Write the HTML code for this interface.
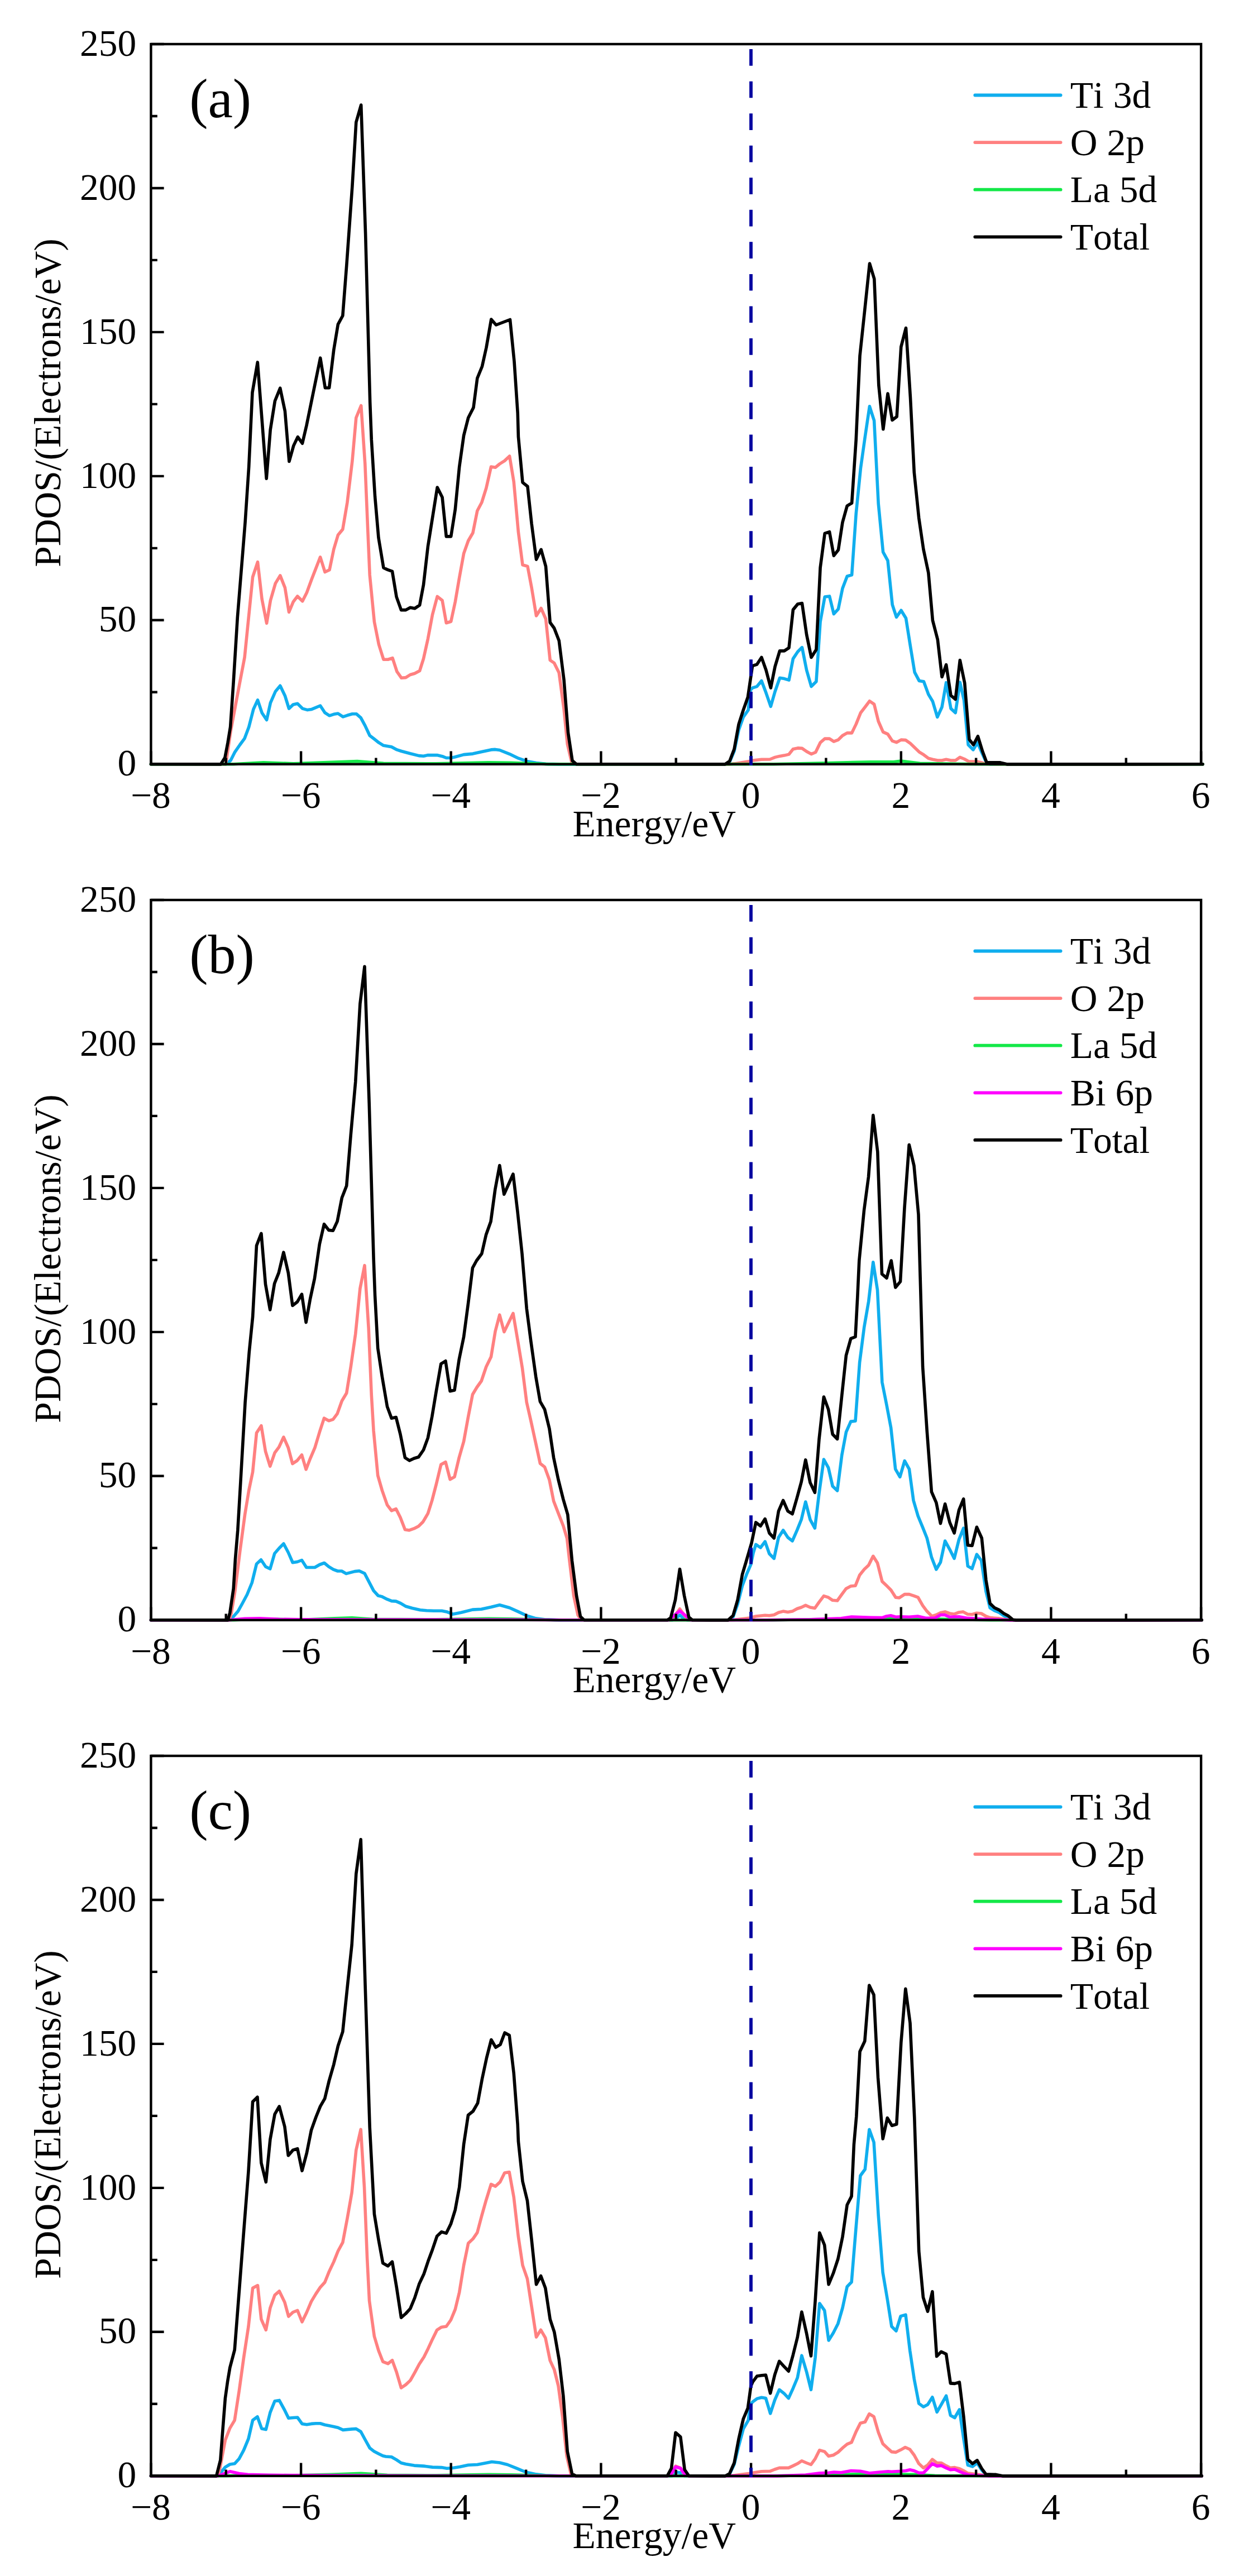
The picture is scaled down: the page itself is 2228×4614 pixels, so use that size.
<!DOCTYPE html>
<html><head><meta charset="utf-8"><title>PDOS</title>
<style>
html,body{margin:0;padding:0;background:#fff;}
svg{display:block;}
text{font-family:"Liberation Serif","Times New Roman",serif;font-size:67.5px;fill:#000;font-kerning:none;font-variant-ligatures:none;}
</style></head><body>
<svg width="2228" height="4614" viewBox="0 0 2228 4614">
<rect width="2228" height="4614" fill="#fff"/>
<g>
<text x="244.3" y="1389.4" text-anchor="end">0</text>
<text x="244.3" y="1131.4" text-anchor="end">50</text>
<text x="244.3" y="873.5" text-anchor="end">100</text>
<text x="244.3" y="615.5" text-anchor="end">150</text>
<text x="244.3" y="357.6" text-anchor="end">200</text>
<text x="244.3" y="99.6" text-anchor="end">250</text>
<text x="269.9" y="1447.1" text-anchor="middle">−8</text>
<text x="538.6" y="1447.1" text-anchor="middle">−6</text>
<text x="807.2" y="1447.1" text-anchor="middle">−4</text>
<text x="1075.9" y="1447.1" text-anchor="middle">−2</text>
<text x="1344.6" y="1447.1" text-anchor="middle">0</text>
<text x="1613.3" y="1447.1" text-anchor="middle">2</text>
<text x="1881.9" y="1447.1" text-anchor="middle">4</text>
<text x="2150.6" y="1447.1" text-anchor="middle">6</text>
<text x="1025.6" y="1497.6">Energy/eV</text>
<text transform="translate(108.3 721.5) rotate(-90)" text-anchor="middle">PDOS/(Electrons/eV)</text>
<path d="M270.4 1368.8L404.2 1368.9L406.7 1367.1L413.1 1362.0L420.8 1346.8L429.7 1334.0L438.1 1322.6L445.7 1302.2L453.9 1270.4L461.5 1253.8L469.1 1276.7L477.6 1289.5L484.4 1258.9L493.3 1238.5L501.8 1228.3L510.4 1246.2L517.5 1269.1L525.2 1261.9L532.8 1260.2L541.7 1269.1L550.7 1271.6L558.3 1270.4L573.6 1264.0L582.0 1276.7L590.1 1281.8L597.8 1279.3L605.4 1278.0L614.3 1283.9L622.0 1281.3L630.9 1278.8L638.5 1278.8L646.2 1285.6L653.8 1299.6L662.2 1317.5L670.4 1323.8L678.5 1330.2L686.9 1335.3L701.2 1337.8L710.9 1342.9L719.0 1345.5L734.8 1349.8L750.3 1353.6L758.5 1354.2L766.4 1352.6L782.7 1352.6L792.1 1354.7L799.3 1357.5L807.7 1357.5L815.3 1355.7L830.6 1351.6L846.9 1350.1L862.9 1346.5L879.5 1342.9L887.1 1342.4L894.8 1343.5L912.6 1350.6L928.4 1358.2L944.9 1363.8L960.5 1366.6L977.5 1368.4L1002.0 1368.9L1300.2 1368.9L1306.8 1364.6L1315.0 1345.5L1323.1 1307.3L1331.3 1284.4L1340.2 1271.6L1344.0 1236.0L1347.6 1232.1L1355.7 1229.6L1363.9 1219.4L1372.0 1241.1L1380.4 1265.3L1388.1 1238.5L1396.5 1214.3L1404.6 1215.6L1413.0 1218.1L1420.4 1179.9L1428.8 1167.2L1436.5 1159.6L1444.6 1200.3L1453.0 1229.6L1461.9 1220.7L1469.1 1113.7L1477.2 1069.1L1485.6 1067.9L1493.3 1099.7L1501.4 1090.8L1509.0 1053.8L1517.2 1032.2L1525.6 1029.7L1533.2 920.1L1541.4 838.6L1549.3 782.6L1557.4 727.8L1565.6 753.3L1573.2 902.3L1581.6 988.9L1590.0 1004.2L1598.2 1083.1L1605.5 1105.3L1613.9 1093.3L1622.5 1107.3L1630.4 1157.0L1638.1 1204.1L1646.2 1219.4L1654.4 1220.7L1662.8 1243.6L1670.4 1256.3L1678.8 1284.4L1687.0 1266.5L1694.6 1222.7L1703.0 1269.1L1711.2 1276.7L1719.3 1222.0L1726.5 1253.8L1734.1 1334.0L1743.0 1342.9L1750.7 1330.2L1759.6 1350.6L1767.2 1367.1L1773.6 1368.9L2154.0 1368.8" fill="none" stroke="#10AEEE" stroke-width="5.6" stroke-linejoin="round" stroke-linecap="round"/>
<path d="M270.4 1368.8L404.2 1368.9L405.5 1360.8L413.1 1309.8L427.4 1233.4L438.1 1177.4L452.6 1033.5L461.5 1006.7L469.1 1073.0L477.6 1116.3L484.4 1075.5L493.3 1044.9L501.8 1030.9L510.4 1052.6L517.5 1096.4L525.2 1078.0L532.8 1067.9L541.7 1076.8L549.4 1061.5L558.3 1037.3L573.6 997.8L582.0 1024.6L590.1 1020.7L597.8 983.8L605.4 958.3L613.8 948.1L622.0 899.7L630.9 825.9L637.8 748.2L646.7 726.5L653.8 831.0L658.9 953.2L662.2 1029.7L670.4 1113.7L678.5 1154.5L686.9 1181.2L694.8 1181.2L703.0 1178.7L710.9 1202.9L719.0 1214.3L726.7 1213.6L734.8 1208.5L742.7 1206.2L751.6 1201.6L758.5 1179.9L766.4 1144.3L774.5 1101.0L783.2 1068.4L792.1 1075.5L799.3 1115.7L807.7 1113.2L815.3 1078.0L822.7 1034.7L830.6 991.4L838.7 968.5L846.9 954.5L854.8 915.0L862.9 899.7L870.8 874.3L879.5 836.1L887.1 837.3L894.8 831.0L903.7 825.4L912.6 817.0L920.2 862.8L928.4 953.2L936.0 1011.8L944.9 1014.4L952.1 1052.6L960.5 1103.0L969.1 1089.5L977.5 1108.6L985.2 1182.5L992.5 1187.5L1001.2 1205.0L1010.0 1270.0L1016.2 1332.5L1023.8 1365.0L1032.5 1368.8L1305.3 1368.9L1315.5 1367.9L1340.9 1363.8L1348.6 1362.0L1363.9 1360.3L1379.1 1360.0L1388.1 1356.4L1396.5 1354.4L1404.6 1353.1L1413.0 1351.1L1420.4 1341.7L1428.8 1339.9L1436.5 1340.4L1444.6 1346.0L1453.0 1350.6L1460.7 1347.5L1469.1 1330.2L1477.2 1323.1L1485.6 1323.1L1493.3 1328.2L1501.4 1325.1L1509.0 1317.5L1517.2 1312.9L1525.6 1312.9L1533.2 1297.1L1541.4 1276.7L1549.3 1266.5L1557.4 1255.8L1565.6 1261.4L1573.2 1292.0L1581.6 1311.1L1590.0 1314.9L1598.2 1327.2L1605.5 1329.7L1613.9 1325.1L1622.0 1325.6L1630.4 1331.5L1638.1 1339.1L1646.2 1346.8L1654.4 1351.9L1662.8 1358.2L1670.4 1360.3L1679.3 1362.0L1687.0 1362.0L1694.6 1360.3L1703.0 1362.0L1711.2 1362.0L1719.3 1356.4L1727.2 1359.5L1735.4 1364.1L1750.7 1364.1L1767.2 1368.4L1783.8 1368.9L2154.0 1368.8" fill="none" stroke="#FF8080" stroke-width="5.6" stroke-linejoin="round" stroke-linecap="round"/>
<path d="M270.4 1368.8L418.2 1368.8L471.9 1365.7L525.6 1367.8L592.8 1365.2L639.8 1363.6L686.8 1367.3L780.9 1367.8L874.9 1365.7L915.2 1366.2L982.4 1368.8L1385.4 1368.8L1479.4 1366.7L1560.0 1364.7L1600.3 1364.7L1613.8 1363.1L1627.2 1364.7L1647.4 1367.3L1694.4 1368.0L1748.1 1368.8L2154.0 1368.8" fill="none" stroke="#14E848" stroke-width="5.6" stroke-linejoin="round" stroke-linecap="round"/>
<path d="M270.4 1368.8L395.3 1368.9L402.9 1357.0L408.0 1330.2L412.6 1302.2L418.2 1220.7L425.3 1106.1L434.8 988.9L439.1 935.4L445.7 836.1L452.0 702.9L461.3 648.9L477.2 857.2L484.2 769.8L492.4 718.3L501.7 695.2L510.4 736.3L517.9 826.4L525.9 798.1L533.3 782.6L541.5 794.2L549.0 762.1L573.7 641.2L582.4 694.7L589.6 694.7L597.8 626.6L605.4 580.8L613.8 565.5L620.7 476.3L630.9 333.7L637.8 219.1L646.7 188.0L654.6 417.8L662.7 720.9L665.3 787.7L671.6 889.6L678.0 963.4L686.9 1016.9L694.8 1020.7L702.5 1023.3L710.1 1069.1L718.5 1092.6L726.7 1092.6L734.8 1088.2L742.7 1089.8L751.6 1083.9L758.5 1047.5L766.4 978.7L774.5 927.8L783.2 873.0L792.1 890.8L799.3 960.9L807.7 960.9L815.3 912.5L822.7 836.1L830.6 780.0L838.7 748.2L848.0 730.0L854.8 677.5L863.5 656.2L871.0 622.5L879.8 572.0L888.5 582.0L913.5 572.5L921.0 647.5L927.2 740.0L928.4 782.6L936.0 864.1L944.9 871.2L952.1 938.0L960.5 1002.1L969.1 984.3L977.5 1014.4L985.2 1115.0L992.5 1125.0L1001.2 1147.5L1010.0 1217.5L1017.5 1312.5L1025.0 1362.5L1032.5 1368.8L1298.7 1368.9L1306.8 1363.3L1315.0 1341.7L1323.1 1297.1L1331.3 1271.6L1339.4 1248.7L1347.6 1192.7L1355.7 1190.1L1363.9 1177.4L1372.0 1200.3L1380.4 1232.1L1388.1 1193.9L1396.5 1165.9L1404.6 1165.9L1413.0 1160.3L1420.4 1092.1L1428.8 1081.9L1436.5 1080.6L1444.6 1136.6L1453.0 1177.4L1461.9 1163.4L1469.1 1016.9L1477.2 955.3L1485.6 952.7L1493.3 995.3L1501.4 985.1L1509.0 935.4L1517.2 906.1L1525.6 901.0L1533.2 787.7L1540.0 637.5L1548.8 555.0L1557.5 472.0L1565.8 499.5L1573.8 690.0L1581.8 768.8L1590.0 705.0L1598.0 752.5L1606.2 746.2L1613.8 621.2L1622.5 587.5L1630.5 712.5L1637.3 846.3L1645.7 927.8L1653.9 983.8L1662.8 1025.8L1670.4 1111.2L1679.3 1145.5L1687.0 1212.5L1694.6 1190.6L1703.0 1245.6L1711.2 1252.5L1719.3 1182.5L1727.7 1223.2L1735.9 1324.6L1743.5 1334.0L1751.4 1318.7L1759.6 1345.5L1767.2 1365.9L1791.4 1365.9L1804.1 1368.9L2154.0 1368.8" fill="none" stroke="#000" stroke-width="5.6" stroke-linejoin="round" stroke-linecap="round"/>
<path d="M270.4 1368.8h23.2M270.4 1239.8h11.4M270.4 1110.8h23.2M270.4 981.9h11.4M270.4 852.9h23.2M270.4 723.9h11.4M270.4 594.9h23.2M270.4 465.9h11.4M270.4 337.0h23.2M270.4 208.0h11.4M270.4 79.0h23.2M270.4 1368.8v-23.2M404.7 1368.8v-11.4M539.1 1368.8v-23.2M673.4 1368.8v-11.4M807.7 1368.8v-23.2M942.1 1368.8v-11.4M1076.4 1368.8v-23.2M1210.7 1368.8v-11.4M1345.1 1368.8v-23.2M1479.4 1368.8v-11.4M1613.8 1368.8v-23.2M1748.1 1368.8v-11.4M1882.4 1368.8v-23.2M2016.8 1368.8v-11.4M2151.1 1368.8v-23.2" stroke="#000" stroke-width="4.4" fill="none"/>
<rect x="270.4" y="79.0" width="1880.7" height="1289.8" fill="none" stroke="#000" stroke-width="4.4"/>
<path d="M1345.0 88.1V1371.0" stroke="#0000A0" stroke-width="5.8" stroke-dasharray="29.7 27.84" fill="none"/>
<path d="M1746.3 170.5H1899.6" stroke="#10AEEE" stroke-width="5.8" stroke-linecap="round"/>
<text x="1916.8" y="193.1">Ti 3d</text>
<path d="M1746.3 255.1H1899.6" stroke="#FF8080" stroke-width="5.8" stroke-linecap="round"/>
<text x="1916.8" y="277.7">O 2p</text>
<path d="M1746.3 339.7H1899.6" stroke="#14E848" stroke-width="5.8" stroke-linecap="round"/>
<text x="1916.8" y="362.3">La 5d</text>
<path d="M1746.3 424.3H1899.6" stroke="#000" stroke-width="5.8" stroke-linecap="round"/>
<text x="1916.8" y="446.9">Total</text>
<text x="339.2" y="210.0" style="font-size:100px">(a)</text>
</g>
<g>
<text x="244.3" y="2922.4" text-anchor="end">0</text>
<text x="244.3" y="2664.4" text-anchor="end">50</text>
<text x="244.3" y="2406.5" text-anchor="end">100</text>
<text x="244.3" y="2148.5" text-anchor="end">150</text>
<text x="244.3" y="1890.6" text-anchor="end">200</text>
<text x="244.3" y="1632.6" text-anchor="end">250</text>
<text x="269.9" y="2980.1" text-anchor="middle">−8</text>
<text x="538.6" y="2980.1" text-anchor="middle">−6</text>
<text x="807.2" y="2980.1" text-anchor="middle">−4</text>
<text x="1075.9" y="2980.1" text-anchor="middle">−2</text>
<text x="1344.6" y="2980.1" text-anchor="middle">0</text>
<text x="1613.3" y="2980.1" text-anchor="middle">2</text>
<text x="1881.9" y="2980.1" text-anchor="middle">4</text>
<text x="2150.6" y="2980.1" text-anchor="middle">6</text>
<text x="1025.6" y="3030.6">Energy/eV</text>
<text transform="translate(108.3 2254.5) rotate(-90)" text-anchor="middle">PDOS/(Electrons/eV)</text>
<path d="M270.4 2901.8L409.5 2901.8L412.5 2900.0L417.5 2896.2L426.2 2886.2L433.8 2872.5L442.5 2856.2L451.2 2835.0L459.5 2801.2L467.5 2793.8L475.8 2806.2L483.8 2810.0L491.8 2782.5L500.0 2773.0L508.0 2765.0L516.2 2780.5L524.2 2798.8L532.5 2797.5L540.5 2794.5L548.8 2807.5L563.8 2807.5L572.5 2802.5L580.8 2799.5L588.8 2806.2L597.0 2811.2L604.8 2814.0L612.0 2814.0L620.0 2818.6L635.4 2814.6L643.4 2813.8L653.0 2818.3L669.1 2849.1L677.2 2858.0L683.6 2859.6L693.2 2864.4L701.3 2867.6L709.3 2868.1L717.4 2871.6L727.0 2877.3L738.3 2880.5L752.7 2883.7L764.0 2884.8L776.8 2885.3L791.3 2885.3L800.0 2886.9L810.7 2891.2L826.0 2888.2L846.4 2883.1L862.2 2882.3L879.5 2878.5L894.8 2874.7L912.6 2879.8L927.9 2886.6L943.2 2893.8L959.7 2898.9L975.5 2900.7L1002.0 2901.9L1203.8 2901.8L1209.5 2899.5L1217.5 2893.0L1225.5 2899.5L1231.2 2901.8L1305.3 2901.9L1312.9 2896.3L1321.1 2873.4L1329.5 2840.3L1337.1 2819.9L1344.8 2802.1L1349.1 2781.7L1353.7 2766.4L1362.1 2772.0L1370.2 2761.3L1377.9 2783.0L1386.3 2791.4L1394.4 2753.7L1402.6 2740.9L1411.0 2753.7L1419.1 2760.1L1427.5 2740.9L1435.2 2721.8L1442.8 2690.0L1451.0 2721.8L1459.4 2737.1L1467.0 2674.7L1475.4 2614.1L1483.6 2628.9L1491.2 2662.0L1499.6 2670.1L1507.8 2606.0L1515.4 2565.2L1523.8 2546.1L1532.0 2545.3L1539.6 2440.4L1547.8 2376.7L1555.7 2330.9L1563.8 2260.8L1571.5 2310.5L1579.9 2476.0L1588.0 2516.8L1595.7 2557.6L1603.7 2631.4L1611.8 2645.4L1620.2 2616.6L1628.4 2631.4L1636.0 2687.5L1644.2 2715.5L1652.6 2735.9L1660.2 2755.0L1668.4 2789.3L1676.8 2811.0L1684.4 2798.3L1692.6 2760.1L1701.0 2775.3L1709.1 2791.4L1717.5 2757.5L1725.7 2737.1L1733.3 2805.1L1741.0 2809.7L1749.4 2784.2L1757.5 2794.9L1765.9 2850.5L1773.1 2879.8L1781.2 2884.9L1789.4 2888.2L1797.8 2893.8L1805.9 2898.9L1811.8 2901.9L2152.3 2901.8" fill="none" stroke="#10AEEE" stroke-width="5.6" stroke-linejoin="round" stroke-linecap="round"/>
<path d="M270.4 2901.8L410.6 2901.9L414.4 2888.7L420.8 2850.5L429.7 2779.2L438.6 2712.9L445.7 2669.6L452.6 2636.5L459.5 2566.5L467.9 2553.7L475.5 2599.6L483.7 2626.3L492.1 2602.1L499.7 2591.9L507.9 2574.1L516.3 2593.2L523.9 2621.7L532.3 2616.1L540.5 2606.0L548.1 2631.9L555.7 2612.3L563.9 2593.2L572.3 2565.2L580.5 2540.2L588.9 2544.8L596.5 2542.3L604.1 2532.1L612.3 2509.2L620.7 2495.2L628.3 2448.0L636.7 2389.4L644.9 2307.9L653.0 2266.7L660.2 2379.3L665.3 2499.0L669.1 2562.7L676.7 2642.9L684.4 2669.6L693.5 2695.6L701.2 2705.8L709.3 2702.7L717.0 2718.0L725.4 2739.7L733.0 2740.9L741.4 2737.9L749.6 2733.8L757.7 2725.7L766.4 2710.9L773.8 2687.5L781.4 2658.2L789.8 2623.3L798.0 2618.7L806.1 2649.8L814.0 2645.4L822.2 2611.0L830.6 2581.8L838.7 2537.2L846.4 2497.7L854.0 2485.0L862.2 2473.5L870.8 2448.0L879.5 2430.2L887.1 2384.4L894.8 2355.1L902.9 2385.6L919.0 2352.5L927.9 2404.7L935.5 2450.6L943.2 2511.7L950.8 2544.8L959.7 2585.6L967.4 2621.2L975.5 2627.6L983.9 2650.5L991.6 2688.7L1000.0 2710.5L1008.8 2733.0L1015.5 2755.5L1020.0 2795.5L1027.5 2858.0L1035.0 2893.0L1041.2 2901.8L1201.2 2901.8L1209.5 2893.0L1217.5 2881.8L1225.5 2893.0L1233.8 2901.8L1305.3 2901.9L1315.5 2901.4L1340.9 2898.4L1353.7 2895.0L1370.2 2893.3L1377.9 2893.8L1386.3 2892.5L1394.4 2888.2L1402.6 2886.1L1411.0 2887.4L1419.1 2886.1L1427.5 2881.5L1435.2 2879.0L1442.8 2875.4L1451.0 2879.0L1459.4 2880.5L1467.0 2869.6L1475.4 2858.6L1483.6 2861.2L1491.2 2866.3L1499.6 2867.0L1507.8 2855.6L1515.4 2845.4L1523.8 2841.0L1532.0 2840.3L1539.6 2821.2L1547.8 2811.0L1555.7 2803.4L1563.8 2787.3L1571.5 2799.5L1579.9 2832.6L1588.0 2840.3L1595.7 2847.9L1604.2 2861.2L1610.6 2861.9L1620.2 2855.6L1628.4 2855.6L1636.0 2858.1L1644.2 2861.2L1652.6 2875.9L1660.2 2886.1L1669.1 2895.0L1676.8 2892.5L1684.4 2888.7L1692.6 2886.9L1701.0 2890.0L1709.1 2891.2L1717.5 2887.9L1724.7 2886.9L1732.8 2891.2L1741.0 2891.7L1749.4 2889.2L1757.5 2890.0L1765.9 2895.0L1773.6 2897.6L1789.4 2898.9L1809.2 2901.9L2152.3 2901.8" fill="none" stroke="#FF8080" stroke-width="5.6" stroke-linejoin="round" stroke-linecap="round"/>
<path d="M270.4 2901.8L418.2 2901.8L471.9 2899.7L525.6 2900.8L552.5 2900.8L599.5 2898.7L630.4 2897.9L666.7 2900.3L780.9 2900.8L874.9 2899.2L915.2 2899.7L995.8 2901.8L1385.4 2901.8L1479.4 2900.3L1560.0 2898.2L1613.8 2897.2L1654.1 2899.2L1707.8 2900.8L1775.0 2901.8L2152.3 2901.8" fill="none" stroke="#14E848" stroke-width="5.6" stroke-linejoin="round" stroke-linecap="round"/>
<path d="M270.4 2901.8L411.4 2901.8L438.3 2899.2L465.2 2898.7L498.8 2900.3L539.1 2900.8L673.4 2901.0L942.1 2901.3L1009.2 2901.8L1197.3 2901.8L1217.5 2885.3L1237.6 2901.8L1372.0 2901.8L1452.6 2900.8L1506.3 2898.7L1525.1 2896.1L1560.0 2897.2L1580.0 2897.6L1587.6 2895.0L1595.3 2893.8L1604.2 2896.3L1613.1 2895.8L1628.4 2896.3L1643.7 2895.0L1659.0 2898.4L1674.2 2898.4L1684.4 2892.5L1692.1 2892.5L1701.0 2896.3L1717.5 2895.8L1732.8 2898.4L1758.3 2900.1L1809.2 2901.9L2152.3 2901.8" fill="none" stroke="#FF00FF" stroke-width="5.6" stroke-linejoin="round" stroke-linecap="round"/>
<path d="M270.4 2901.8L408.0 2901.9L411.8 2888.7L418.2 2845.4L421.5 2791.9L425.8 2740.9L430.9 2654.3L439.1 2511.7L446.2 2422.6L452.6 2358.9L459.5 2230.9L467.9 2209.3L475.5 2300.3L483.7 2346.1L491.6 2299.0L499.2 2279.9L507.9 2243.2L516.3 2279.9L523.9 2338.5L532.3 2332.1L540.5 2318.1L548.1 2368.6L555.7 2325.8L563.4 2290.1L572.3 2228.4L580.5 2192.7L588.9 2203.4L596.5 2204.2L604.1 2187.6L612.3 2145.6L620.7 2124.0L628.3 2032.3L636.7 1938.0L644.9 1797.9L653.0 1731.2L661.2 1976.2L669.1 2253.9L671.6 2320.7L676.7 2414.9L684.4 2465.9L693.5 2519.4L701.2 2540.2L709.3 2538.5L717.0 2569.0L725.4 2611.0L733.5 2616.1L741.4 2612.3L749.6 2609.8L758.5 2597.0L766.4 2575.4L773.8 2537.2L781.4 2491.3L789.8 2442.9L798.0 2437.8L806.1 2491.8L814.0 2490.1L822.2 2435.3L830.6 2394.5L838.7 2333.4L846.4 2271.0L853.5 2258.0L862.8 2245.5L870.5 2211.8L879.0 2188.0L886.8 2130.5L894.8 2087.5L902.8 2139.2L919.0 2103.0L927.0 2170.5L935.0 2245.5L943.2 2343.6L950.8 2402.2L959.7 2465.9L967.4 2510.4L975.5 2524.4L983.9 2558.8L991.6 2611.0L1000.0 2650.5L1008.8 2685.5L1016.8 2713.0L1024.5 2795.5L1032.5 2858.0L1039.5 2895.5L1046.2 2901.8L1195.0 2901.8L1201.2 2898.0L1209.5 2865.5L1217.5 2810.5L1225.5 2858.0L1233.8 2896.8L1240.0 2901.8L1304.0 2901.9L1312.9 2893.8L1321.1 2865.8L1329.5 2819.9L1337.1 2794.4L1346.0 2763.9L1353.7 2726.9L1362.1 2733.3L1370.2 2720.6L1377.9 2746.0L1386.3 2755.0L1394.4 2706.6L1402.6 2687.5L1411.0 2706.6L1419.1 2711.7L1427.5 2682.4L1435.2 2654.3L1442.8 2614.9L1451.0 2655.6L1459.4 2673.4L1467.0 2577.9L1475.4 2502.0L1483.6 2524.4L1491.2 2569.0L1499.6 2577.4L1507.8 2499.0L1515.4 2427.7L1523.8 2397.6L1532.0 2394.5L1535.8 2323.2L1538.8 2258.0L1547.5 2168.0L1555.5 2108.0L1563.8 1997.5L1571.8 2063.0L1579.5 2281.8L1588.0 2289.2L1596.2 2258.0L1603.8 2306.0L1612.5 2295.5L1620.0 2163.0L1628.2 2050.5L1637.0 2088.0L1645.0 2175.5L1652.6 2448.0L1660.2 2562.7L1668.4 2672.2L1676.8 2691.3L1684.4 2728.7L1692.6 2693.8L1701.0 2726.9L1709.1 2746.0L1717.5 2704.8L1725.7 2684.9L1733.3 2767.7L1741.0 2768.5L1749.4 2735.3L1758.3 2755.0L1765.9 2830.1L1773.1 2872.1L1781.2 2879.8L1789.4 2883.6L1797.8 2890.0L1805.9 2894.3L1814.3 2901.4L1819.4 2901.9L2152.3 2901.8" fill="none" stroke="#000" stroke-width="5.6" stroke-linejoin="round" stroke-linecap="round"/>
<path d="M270.4 2901.8h23.2M270.4 2772.8h11.4M270.4 2643.8h23.2M270.4 2514.9h11.4M270.4 2385.9h23.2M270.4 2256.9h11.4M270.4 2127.9h23.2M270.4 1998.9h11.4M270.4 1870.0h23.2M270.4 1741.0h11.4M270.4 1612.0h23.2M270.4 2901.8v-23.2M404.7 2901.8v-11.4M539.1 2901.8v-23.2M673.4 2901.8v-11.4M807.7 2901.8v-23.2M942.1 2901.8v-11.4M1076.4 2901.8v-23.2M1210.7 2901.8v-11.4M1345.1 2901.8v-23.2M1479.4 2901.8v-11.4M1613.8 2901.8v-23.2M1748.1 2901.8v-11.4M1882.4 2901.8v-23.2M2016.8 2901.8v-11.4M2151.1 2901.8v-23.2" stroke="#000" stroke-width="4.4" fill="none"/>
<rect x="270.4" y="1612.0" width="1880.7" height="1289.8" fill="none" stroke="#000" stroke-width="4.4"/>
<path d="M1345.0 1621.1V2904.0" stroke="#0000A0" stroke-width="5.8" stroke-dasharray="29.7 27.84" fill="none"/>
<path d="M1746.3 1703.5H1899.6" stroke="#10AEEE" stroke-width="5.8" stroke-linecap="round"/>
<text x="1916.8" y="1726.1">Ti 3d</text>
<path d="M1746.3 1788.1H1899.6" stroke="#FF8080" stroke-width="5.8" stroke-linecap="round"/>
<text x="1916.8" y="1810.7">O 2p</text>
<path d="M1746.3 1872.7H1899.6" stroke="#14E848" stroke-width="5.8" stroke-linecap="round"/>
<text x="1916.8" y="1895.3">La 5d</text>
<path d="M1746.3 1957.3H1899.6" stroke="#FF00FF" stroke-width="5.8" stroke-linecap="round"/>
<text x="1916.8" y="1979.9">Bi 6p</text>
<path d="M1746.3 2041.9H1899.6" stroke="#000" stroke-width="5.8" stroke-linecap="round"/>
<text x="1916.8" y="2064.5">Total</text>
<text x="339.2" y="1743.0" style="font-size:100px">(b)</text>
</g>
<g>
<text x="244.3" y="4455.4" text-anchor="end">0</text>
<text x="244.3" y="4197.4" text-anchor="end">50</text>
<text x="244.3" y="3939.5" text-anchor="end">100</text>
<text x="244.3" y="3681.5" text-anchor="end">150</text>
<text x="244.3" y="3423.6" text-anchor="end">200</text>
<text x="244.3" y="3165.6" text-anchor="end">250</text>
<text x="269.9" y="4513.1" text-anchor="middle">−8</text>
<text x="538.6" y="4513.1" text-anchor="middle">−6</text>
<text x="807.2" y="4513.1" text-anchor="middle">−4</text>
<text x="1075.9" y="4513.1" text-anchor="middle">−2</text>
<text x="1344.6" y="4513.1" text-anchor="middle">0</text>
<text x="1613.3" y="4513.1" text-anchor="middle">2</text>
<text x="1881.9" y="4513.1" text-anchor="middle">4</text>
<text x="2150.6" y="4513.1" text-anchor="middle">6</text>
<text x="1025.6" y="4563.6">Energy/eV</text>
<text transform="translate(108.3 3787.5) rotate(-90)" text-anchor="middle">PDOS/(Electrons/eV)</text>
<path d="M270.4 4434.8L388.9 4434.9L392.7 4431.9L403.4 4419.1L411.8 4414.0L420.2 4412.8L428.4 4403.8L436.5 4388.6L445.0 4368.2L452.6 4335.1L461.0 4328.7L468.6 4349.9L476.3 4351.6L483.9 4321.1L492.1 4300.7L500.2 4299.4L509.9 4317.2L516.8 4331.3L524.7 4330.5L532.8 4330.0L541.0 4341.4L549.4 4342.7L557.5 4341.4L565.9 4340.7L573.6 4340.7L581.7 4343.2L589.4 4344.8L597.8 4346.5L605.4 4348.3L614.3 4352.4L622.0 4351.6L630.1 4350.9L637.8 4350.4L646.2 4355.5L653.8 4369.5L662.2 4384.7L670.4 4391.1L678.0 4394.9L685.7 4398.8L691.0 4400.0L701.2 4400.8L710.1 4405.9L718.5 4411.5L726.7 4413.5L741.9 4416.1L759.3 4417.1L774.5 4419.1L790.8 4419.6L800.5 4421.2L810.7 4420.4L823.4 4418.6L838.7 4415.3L854.8 4414.5L870.8 4411.5L880.8 4409.5L894.8 4411.0L908.8 4414.5L925.3 4421.2L941.9 4428.0L960.5 4431.9L976.8 4433.9L1002.0 4434.9L1203.8 4434.8L1211.2 4428.0L1218.8 4429.0L1226.2 4434.8L1300.2 4434.9L1306.6 4431.9L1315.0 4414.0L1323.1 4380.9L1331.3 4350.4L1340.2 4335.1L1344.0 4307.1L1348.1 4302.0L1355.7 4296.4L1363.9 4294.3L1371.5 4295.6L1379.7 4322.9L1387.6 4298.9L1395.7 4280.3L1403.9 4286.7L1412.3 4295.6L1420.4 4277.8L1428.3 4258.7L1435.9 4219.2L1444.6 4248.5L1452.5 4280.3L1460.1 4223.0L1467.8 4125.7L1476.7 4138.4L1484.1 4191.9L1492.5 4178.4L1500.9 4161.9L1509.0 4133.9L1517.2 4095.7L1525.1 4087.5L1533.2 3988.7L1540.9 3897.0L1549.3 3885.5L1556.9 3814.2L1565.1 3837.1L1573.2 3968.3L1581.1 4070.2L1589.3 4118.6L1596.9 4167.0L1605.0 4175.1L1613.1 4148.6L1622.0 4146.1L1629.7 4210.3L1637.3 4261.2L1645.7 4305.0L1653.9 4310.9L1661.5 4307.1L1669.9 4293.8L1678.1 4320.3L1685.7 4307.1L1694.6 4291.3L1702.3 4326.2L1709.9 4330.5L1718.3 4316.0L1725.9 4368.2L1733.3 4415.3L1741.7 4417.9L1750.1 4411.5L1758.3 4424.2L1765.9 4433.1L1771.0 4434.9L2152.3 4434.8" fill="none" stroke="#10AEEE" stroke-width="5.6" stroke-linejoin="round" stroke-linecap="round"/>
<path d="M270.4 4434.8L388.9 4434.9L392.7 4426.8L396.6 4406.4L403.4 4370.7L411.8 4349.1L420.2 4335.1L428.4 4281.6L436.5 4223.0L445.0 4167.0L452.6 4098.2L461.5 4093.6L467.9 4154.2L476.3 4173.3L483.9 4133.9L492.1 4110.9L500.2 4103.8L509.9 4123.7L516.8 4149.1L524.7 4141.5L532.8 4138.4L541.0 4158.8L549.4 4141.5L557.5 4122.4L565.9 4108.4L573.6 4096.9L581.7 4088.0L589.4 4068.9L597.8 4051.1L605.4 4032.0L613.8 4016.7L622.0 3973.4L630.1 3927.5L637.8 3851.1L646.2 3814.2L652.5 3917.4L657.6 4044.7L661.5 4121.1L670.4 4184.8L678.0 4210.3L685.7 4230.1L694.8 4233.7L702.5 4227.6L710.1 4248.5L718.5 4277.0L726.7 4271.4L734.8 4263.8L742.7 4249.8L750.9 4234.5L759.3 4221.7L766.9 4206.4L774.5 4189.9L782.7 4173.3L790.8 4168.2L799.3 4167.0L807.4 4155.5L815.3 4136.4L822.7 4105.8L830.6 4057.4L838.7 4018.0L846.9 4010.3L854.8 3998.9L862.9 3968.3L870.8 3940.3L879.5 3912.3L887.1 3916.1L895.5 3908.4L903.7 3891.9L912.1 3890.6L920.2 3935.2L928.4 4006.5L936.0 4057.4L944.4 4081.6L952.1 4131.3L960.5 4186.1L968.6 4173.3L976.8 4187.3L985.2 4228.1L992.8 4244.7L1000.0 4273.5L1007.5 4328.5L1015.0 4398.5L1022.5 4431.0L1027.5 4434.8L1197.5 4434.8L1202.5 4432.2L1210.0 4417.2L1218.8 4420.5L1226.2 4433.0L1231.2 4434.8L1305.3 4434.9L1315.5 4433.9L1340.9 4430.6L1355.7 4428.0L1363.9 4426.8L1379.1 4426.3L1387.6 4423.0L1395.7 4420.4L1412.3 4420.4L1420.4 4416.6L1428.3 4412.8L1435.9 4407.7L1444.6 4411.5L1452.5 4414.5L1460.1 4403.8L1467.8 4388.6L1476.7 4391.1L1484.1 4399.3L1492.5 4397.5L1500.9 4392.4L1509.0 4384.7L1517.2 4377.9L1525.1 4374.6L1533.2 4355.5L1540.9 4340.2L1549.3 4338.1L1556.9 4323.6L1565.1 4328.7L1573.2 4356.7L1581.1 4377.1L1589.3 4384.7L1596.9 4391.6L1604.2 4392.4L1613.1 4388.1L1621.3 4383.5L1629.7 4387.3L1637.3 4397.5L1645.7 4412.8L1653.9 4420.4L1661.5 4415.3L1669.9 4405.1L1678.1 4411.5L1685.7 4411.5L1694.6 4416.6L1702.3 4420.4L1709.9 4419.6L1718.3 4421.7L1725.9 4425.5L1733.3 4429.8L1758.3 4433.1L1773.6 4434.9L2152.3 4434.8" fill="none" stroke="#FF8080" stroke-width="5.6" stroke-linejoin="round" stroke-linecap="round"/>
<path d="M270.4 4434.8L404.7 4434.8L458.5 4433.3L525.6 4433.8L592.8 4432.2L646.5 4430.2L693.6 4433.3L780.9 4433.8L874.9 4432.2L915.2 4432.7L995.8 4434.8L1385.4 4434.8L1479.4 4433.3L1546.6 4431.2L1600.3 4431.7L1640.6 4432.2L1674.2 4434.3L1761.6 4434.8L2152.3 4434.8" fill="none" stroke="#14E848" stroke-width="5.6" stroke-linejoin="round" stroke-linecap="round"/>
<path d="M270.4 4434.8L390.2 4434.9L395.3 4433.1L411.8 4426.8L428.4 4430.6L443.7 4432.4L481.9 4433.4L583.8 4433.9L691.0 4434.4L995.8 4434.8L1196.2 4434.8L1201.2 4433.0L1210.0 4418.5L1218.8 4421.0L1227.5 4433.0L1232.5 4434.8L1391.9 4434.9L1442.8 4433.1L1468.3 4429.8L1483.6 4429.3L1493.8 4428.0L1506.5 4428.8L1524.3 4425.5L1540.9 4426.3L1557.4 4429.8L1575.3 4428.0L1590.6 4426.8L1596.6 4427.3L1613.1 4426.3L1622.0 4425.5L1629.7 4423.7L1637.3 4425.5L1645.7 4429.3L1653.9 4429.3L1661.5 4421.7L1669.9 4412.8L1678.1 4417.1L1685.7 4416.1L1694.6 4420.4L1702.3 4423.7L1709.9 4423.0L1718.3 4426.8L1725.9 4429.8L1735.4 4433.1L1758.3 4434.4L1773.6 4434.9L2152.3 4434.8" fill="none" stroke="#FF00FF" stroke-width="5.6" stroke-linejoin="round" stroke-linecap="round"/>
<path d="M270.4 4434.8L387.6 4434.9L394.8 4406.4L399.1 4350.4L403.4 4295.6L407.5 4266.3L411.8 4240.8L420.2 4209.0L428.4 4103.3L436.5 3997.8L445.0 3889.3L452.6 3764.5L461.0 3756.3L467.9 3874.1L476.3 3908.4L483.9 3832.0L492.1 3786.9L500.2 3772.9L509.9 3809.1L516.3 3860.8L524.7 3851.1L532.8 3848.6L541.0 3888.1L549.4 3856.2L557.5 3815.5L565.9 3792.0L573.6 3772.9L581.7 3758.8L589.4 3727.0L597.8 3697.7L605.4 3664.6L613.8 3639.1L622.0 3560.2L630.1 3483.8L637.8 3356.4L646.2 3294.8L654.3 3562.7L662.2 3810.4L670.4 3965.7L678.0 4011.6L685.7 4053.6L694.8 4058.7L702.5 4051.1L710.1 4095.7L718.5 4151.2L726.7 4144.0L734.8 4135.1L742.7 4116.0L750.9 4090.6L759.3 4072.7L766.9 4049.8L774.5 4029.4L782.7 4005.2L790.8 3997.6L799.3 4000.1L807.4 3983.6L815.3 3958.1L822.7 3917.4L830.6 3840.9L838.5 3788.5L847.2 3781.5L855.5 3767.2L863.5 3723.5L871.5 3686.0L879.8 3653.5L887.8 3667.2L896.0 3662.2L904.0 3641.0L912.2 3645.5L920.2 3713.5L927.2 3806.0L928.4 3835.8L936.0 3907.2L944.4 3941.6L952.1 4011.6L960.5 4091.8L968.6 4076.5L976.8 4098.2L985.2 4154.2L992.8 4177.2L1001.2 4226.0L1008.8 4291.0L1016.2 4391.0L1024.5 4431.0L1031.2 4434.8L1195.0 4434.8L1202.5 4421.0L1210.0 4357.2L1218.8 4364.8L1226.2 4423.5L1233.8 4434.8L1298.9 4434.9L1306.6 4430.6L1315.0 4411.5L1323.1 4368.2L1331.3 4332.5L1339.4 4313.4L1344.8 4273.9L1348.1 4266.3L1355.7 4256.1L1363.9 4254.8L1371.5 4254.1L1379.7 4286.7L1387.6 4253.6L1395.7 4229.4L1403.9 4238.3L1412.3 4247.2L1420.4 4217.9L1428.3 4186.1L1435.9 4141.0L1444.6 4179.7L1452.5 4219.9L1460.1 4121.1L1467.8 3999.4L1476.7 4021.3L1484.1 4091.8L1492.5 4071.5L1500.9 4046.0L1509.0 4006.5L1517.2 3949.2L1525.1 3933.9L1529.4 3840.9L1533.8 3791.0L1540.0 3674.8L1548.8 3656.0L1556.8 3556.0L1565.0 3573.0L1572.5 3721.0L1581.2 3831.0L1589.2 3793.5L1597.5 3807.2L1605.8 3804.8L1613.8 3658.5L1621.8 3562.2L1630.0 3623.5L1637.8 3793.5L1645.7 4032.0L1653.4 4114.8L1661.5 4140.2L1669.9 4104.6L1677.6 4220.5L1685.7 4212.3L1694.6 4216.6L1702.3 4268.9L1709.9 4269.4L1718.3 4266.8L1725.9 4328.7L1733.3 4405.1L1741.7 4412.8L1750.1 4406.9L1758.3 4421.7L1765.9 4431.9L1783.8 4432.4L1796.5 4434.9L2152.3 4434.8" fill="none" stroke="#000" stroke-width="5.6" stroke-linejoin="round" stroke-linecap="round"/>
<path d="M270.4 4434.8h23.2M270.4 4305.8h11.4M270.4 4176.8h23.2M270.4 4047.9h11.4M270.4 3918.9h23.2M270.4 3789.9h11.4M270.4 3660.9h23.2M270.4 3531.9h11.4M270.4 3403.0h23.2M270.4 3274.0h11.4M270.4 3145.0h23.2M270.4 4434.8v-23.2M404.7 4434.8v-11.4M539.1 4434.8v-23.2M673.4 4434.8v-11.4M807.7 4434.8v-23.2M942.1 4434.8v-11.4M1076.4 4434.8v-23.2M1210.7 4434.8v-11.4M1345.1 4434.8v-23.2M1479.4 4434.8v-11.4M1613.8 4434.8v-23.2M1748.1 4434.8v-11.4M1882.4 4434.8v-23.2M2016.8 4434.8v-11.4M2151.1 4434.8v-23.2" stroke="#000" stroke-width="4.4" fill="none"/>
<rect x="270.4" y="3145.0" width="1880.7" height="1289.8" fill="none" stroke="#000" stroke-width="4.4"/>
<path d="M1345.0 3154.1V4437.0" stroke="#0000A0" stroke-width="5.8" stroke-dasharray="29.7 27.84" fill="none"/>
<path d="M1746.3 3236.5H1899.6" stroke="#10AEEE" stroke-width="5.8" stroke-linecap="round"/>
<text x="1916.8" y="3259.1">Ti 3d</text>
<path d="M1746.3 3321.1H1899.6" stroke="#FF8080" stroke-width="5.8" stroke-linecap="round"/>
<text x="1916.8" y="3343.7">O 2p</text>
<path d="M1746.3 3405.7H1899.6" stroke="#14E848" stroke-width="5.8" stroke-linecap="round"/>
<text x="1916.8" y="3428.3">La 5d</text>
<path d="M1746.3 3490.3H1899.6" stroke="#FF00FF" stroke-width="5.8" stroke-linecap="round"/>
<text x="1916.8" y="3512.9">Bi 6p</text>
<path d="M1746.3 3574.9H1899.6" stroke="#000" stroke-width="5.8" stroke-linecap="round"/>
<text x="1916.8" y="3597.5">Total</text>
<text x="339.2" y="3276.0" style="font-size:100px">(c)</text>
</g>
</svg>
</body></html>
